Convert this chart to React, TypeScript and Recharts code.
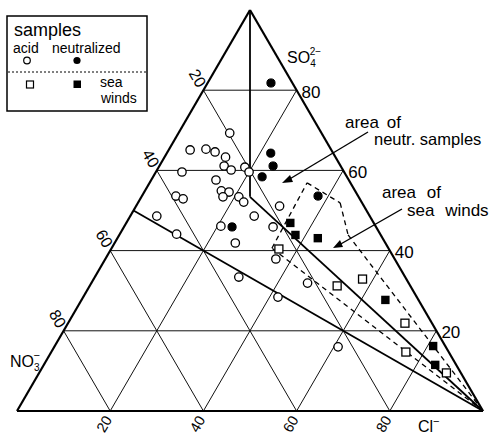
import React from 'react';
import { ScatterChart, Scatter, XAxis, YAxis, ReferenceLine, ReferenceDot } from 'recharts';

const W = 493;
const H = 435;
const FONT = '"Liberation Sans", Arial, Helvetica, sans-serif';

// grid levels (percent)
const gridLevels = [20, 40, 60, 80];
// tick labels
const no3TickLabels = ['20', '40', '60', '80']; // NO3- % along the left edge (top -> bottom)
const clTickLabels = ['20', '40', '60', '80']; // Cl- % along the base
const so4TickLabels = ['80', '60', '40', '20']; // SO4 2- % along the right edge
const so4TickValues = [80, 60, 40, 20];

// samples as [Cl- %, SO4 2- %]  (NO3- = 100 - Cl - SO4)
const acidSamples: [number, number][] = [
  [11.0, 69.3], [4.6, 65.1], [7.9, 65.3], [10.2, 64.6], [13.1, 63.3], [13.9, 61.1],
  [15.9, 60.1], [18.5, 60.8], [20.0, 59.6], [5.6, 59.6], [13.9, 57.6], [16.4, 54.9],
  [18.2, 54.6], [17.5, 53.4], [20.9, 53.4], [22.6, 52.1], [7.3, 53.6], [9.2, 52.9],
  [5.7, 48.6], [26.6, 48.6], [20.7, 46.1], [12.2, 44.1], [30.8, 51.1], [32.0, 45.9],
  [25.9, 41.9], [36.6, 37.9], [46.4, 31.9], [41.8, 28.4], [30.9, 33.4], [60.9, 16.0],
];
const neutralizedSamples: [number, number][] = [
  [13.6, 81.8], [22.3, 64.3], [24.4, 61.1], [23.4, 58.4], [37.8, 53.6], [23.2, 45.9],
];
const seaWindsAcid: [number, number][] = [
  [36.0, 40.4], [53.1, 31.2], [57.7, 32.9], [72.3, 21.9], [76.1, 14.7], [87.4, 9.5],
];
const seaWindsNeutralized: [number, number][] = [
  [35.2, 46.9], [37.8, 43.9], [43.0, 43.1], [65.2, 27.7], [81.2, 16.2], [84.0, 11.5],
];

// boundary lines, [Cl %, SO4 %]
const neutralAreaBoundary: [number, number][] = [[0, 100], [23.3, 53.4], [100, 0]];
const acidDivide: [number, number][] = [[0, 50], [100, 0]];
const seaWindsArea: [number, number][] = [
  [100, 0], [34.4, 40.6], [33.8, 56.9], [43.4, 51.9], [49.1, 43.9], [100, 0],
];
const triangle: [number, number][] = [[0, 0], [100, 0], [0, 100], [0, 0]];

// ternary -> cartesian (x along the base, y = SO4 height)
const toXY = ([c, s]: [number, number]) => ({ x: c + s / 2, y: s });

const segmentsOf = (pts: [number, number][]) => {
  const out: { x: number; y: number }[][] = [];
  for (let i = 0; i < pts.length - 1; i++) out.push([toXY(pts[i]), toXY(pts[i + 1])]);
  return out;
};

const gridSegments: { x: number; y: number }[][] = [];
gridLevels.forEach((k) => {
  gridSegments.push([toXY([0, k]), toXY([100 - k, k])]); // SO4 = k
  gridSegments.push([toXY([k, 0]), toXY([k, 100 - k])]); // Cl = k
  gridSegments.push([toXY([100 - k, 0]), toXY([0, 100 - k])]); // NO3 = k
});

const openCircle = (p: any) => (
  <circle cx={p.cx} cy={p.cy} r={4.2} fill="#fff" stroke="#000" strokeWidth={1.3} />
);
const filledCircle = (p: any) => <circle cx={p.cx} cy={p.cy} r={4.1} fill="#000" stroke="#000" />;
const openSquare = (p: any) => (
  <rect x={p.cx - 4} y={p.cy - 4} width={8} height={8} fill="#fff" stroke="#000" strokeWidth={1.3} />
);
const filledSquare = (p: any) => (
  <rect x={p.cx - 4.2} y={p.cy - 4.2} width={8.4} height={8.4} fill="#000" />
);

const textDot = (
  key: string,
  pos: { x: number; y: number },
  render: (cx: number, cy: number) => React.ReactElement
) => (
  <ReferenceDot
    key={key}
    x={pos.x}
    y={pos.y}
    r={1}
    fill="none"
    stroke="none"
    ifOverflow="visible"
    label={{
      content: (props: any) => {
        const vb = props.viewBox || {};
        const cx = (vb.x ?? 0) + (vb.width ?? 0) / 2;
        const cy = (vb.y ?? 0) + (vb.height ?? 0) / 2;
        return render(cx, cy);
      },
    }}
  />
);

export default function App() {
  return (
    <div style={{ position: 'absolute', left: 0, top: 0, width: W, height: H, fontFamily: FONT, background: '#fff' }}>
      <ScatterChart width={W} height={H} margin={{ top: 10, right: 10, bottom: 24, left: 17 }}>
        <XAxis type="number" dataKey="x" domain={[0, 100]} hide />
        <YAxis type="number" dataKey="y" domain={[0, 100]} hide />
        {gridSegments.map((seg, i) => (
          <ReferenceLine key={`g${i}`} segment={seg} stroke="#111" strokeWidth={1} ifOverflow="visible" />
        ))}
        {segmentsOf(triangle).map((seg, i) => (
          <ReferenceLine key={`t${i}`} segment={seg} stroke="#000" strokeWidth={2.2} ifOverflow="visible" />
        ))}
        {segmentsOf(neutralAreaBoundary).map((seg, i) => (
          <ReferenceLine key={`n${i}`} segment={seg} stroke="#000" strokeWidth={1.8} ifOverflow="visible" />
        ))}
        {segmentsOf(acidDivide).map((seg, i) => (
          <ReferenceLine key={`a${i}`} segment={seg} stroke="#000" strokeWidth={1.8} ifOverflow="visible" />
        ))}
        {segmentsOf(seaWindsArea).map((seg, i) => (
          <ReferenceLine key={`s${i}`} segment={seg} stroke="#000" strokeWidth={1.3} strokeDasharray="5 4" ifOverflow="visible" />
        ))}

        <Scatter name="acid" data={acidSamples.map(toXY)} shape={openCircle} isAnimationActive={false} />
        <Scatter name="neutralized" data={neutralizedSamples.map(toXY)} shape={filledCircle} isAnimationActive={false} />
        <Scatter name="sea winds (acid)" data={seaWindsAcid.map(toXY)} shape={openSquare} isAnimationActive={false} />
        <Scatter name="sea winds (neutralized)" data={seaWindsNeutralized.map(toXY)} shape={filledSquare} isAnimationActive={false} />

        {no3TickLabels.map((lab, i) =>
          textDot(`ln${i}`, toXY([0, 100 - gridLevels[i]]), (cx, cy) => (
            <text
              x={cx - 6}
              y={cy - 12}
              transform={`rotate(60 ${cx - 6} ${cy - 12})`}
              textAnchor="middle"
              dominantBaseline="central"
              fontSize={16}
              fontFamily={FONT}
              fill="#000"
            >
              {lab}
            </text>
          ))
        )}
        {clTickLabels.map((lab, i) =>
          textDot(`lc${i}`, toXY([gridLevels[i], 0]), (cx, cy) => (
            <text
              x={cx - 6}
              y={cy + 13}
              transform={`rotate(-60 ${cx - 6} ${cy + 13})`}
              textAnchor="middle"
              dominantBaseline="central"
              fontSize={14.5}
              fontFamily={FONT}
              fill="#000"
            >
              {lab}
            </text>
          ))
        )}
        {so4TickLabels.map((lab, i) =>
          textDot(`ls${i}`, toXY([100 - so4TickValues[i], so4TickValues[i]]), (cx, cy) => (
            <text x={cx + 5} y={cy + 2} dominantBaseline="central" fontSize={17} fontFamily={FONT} fill="#000">
              {lab}
            </text>
          ))
        )}
        {textDot('so4', toXY([0, 100]), (cx, cy) => (
          <text x={cx + 37} y={cy + 53} fontSize={16} fontFamily={FONT} fill="#000">
            SO
            <tspan fontSize={10} dy={4}>4</tspan>
            <tspan fontSize={10} dx={-6} dy={-12}>2−</tspan>
          </text>
        ))}
        {textDot('no3', toXY([0, 0]), (cx, cy) => (
          <text x={cx - 7} y={cy - 44} fontSize={16} fontFamily={FONT} fill="#000">
            NO
            <tspan fontSize={10} dy={4}>3</tspan>
            <tspan fontSize={11} dx={-6} dy={-12}>−</tspan>
          </text>
        ))}
        {textDot('cl', toXY([100, 0]), (cx, cy) => (
          <text x={cx - 65} y={cy + 21} fontSize={16} fontFamily={FONT} fill="#000">
            Cl
            <tspan fontSize={11} dy={-7}>−</tspan>
          </text>
        ))}
      </ScatterChart>

      <svg width={W} height={H} style={{ position: 'absolute', left: 0, top: 0, pointerEvents: 'none' }} fontFamily={FONT}>
        {/* legend */}
        <rect x={7} y={16} width={140} height={95} fill="none" stroke="#000" strokeWidth={1.5} />
        <text x={14} y={36} fontSize={18}>samples</text>
        <text x={13} y={53} fontSize={14}>acid</text>
        <text x={52} y={53} fontSize={14}>neutralized</text>
        <circle cx={27} cy={60.5} r={3.3} fill="#fff" stroke="#000" strokeWidth={1.2} />
        <circle cx={77} cy={60.5} r={3.6} fill="#000" />
        <line x1={8} x2={146} y1={72} y2={72} stroke="#000" strokeWidth={1} strokeDasharray="2 2" />
        <rect x={26.5} y={81} width={7} height={7} fill="#fff" stroke="#000" strokeWidth={1.2} />
        <rect x={73.5} y={80.5} width={7.5} height={7.5} fill="#000" />
        <text x={100} y={87} fontSize={14}>sea</text>
        <text x={101} y={103} fontSize={14}>winds</text>

        {/* annotations */}
        <text x={345} y={128} fontSize={17} wordSpacing={3}>area of</text>
        <text x={374} y={145} fontSize={16.5}>neutr. samples</text>
        <line x1={368} y1={132} x2={288} y2={180} stroke="#000" strokeWidth={1.4} />
        <polygon points="282,183 290,175 293,182" fill="#000" />

        <text x={382} y={198} fontSize={17} wordSpacing={6}>area of</text>
        <text x={407} y={216} fontSize={17} wordSpacing={6}>sea winds</text>
        <line x1={402} y1={209} x2={339} y2={245} stroke="#000" strokeWidth={1.4} />
        <polygon points="333,248 340,240 343,247" fill="#000" />
      </svg>
    </div>
  );
}
